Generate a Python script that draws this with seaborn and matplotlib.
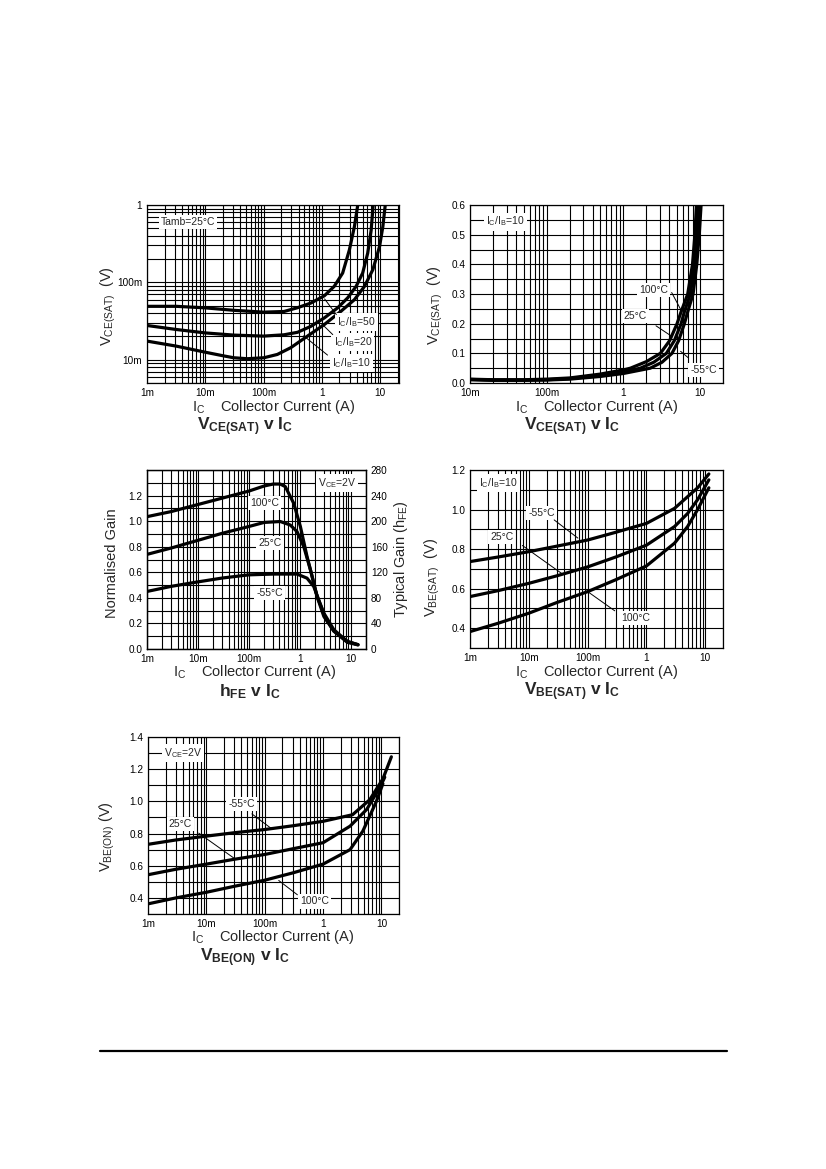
import numpy as np
import pandas as pd
import matplotlib
matplotlib.use('Agg')
import matplotlib.pyplot as plt
import seaborn as sns
from matplotlib.ticker import FixedLocator, FixedFormatter, MultipleLocator, LogLocator, NullFormatter
from matplotlib.lines import Line2D

# ---------------------------------------------------------------- data
# panel 1 : VCE(SAT) v IC (log-log), Tamb=25C
p1_x50 = [0.001, 0.00316, 0.01, 0.031, 0.1, 0.224, 0.381, 0.646, 1.1, 1.63, 2.27, 2.96, 3.61, 4.12]
p1_y50 = [0.049, 0.049, 0.0468, 0.0435, 0.0412, 0.042, 0.047, 0.054, 0.067, 0.089, 0.132, 0.263, 0.526, 1.0]
p1_x20 = [0.001, 0.00316, 0.01, 0.031, 0.1, 0.224, 0.381, 0.646, 1.1, 1.86, 2.77, 3.86, 5.0, 6.1, 7.0, 7.57]
p1_y20 = [0.0277, 0.0246, 0.0222, 0.0208, 0.0202, 0.021, 0.0226, 0.027, 0.0347, 0.0468, 0.0631, 0.0887, 0.132, 0.238, 0.476, 1.0]
p1_x10 = [0.001, 0.00316, 0.01, 0.0207, 0.0308, 0.0523, 0.101, 0.172, 0.292, 0.566, 1.1, 2.13, 3.61, 5.37, 7.48, 9.75, 11.1, 12.2]
p1_y10 = [0.0174, 0.015, 0.0125, 0.0112, 0.0106, 0.0103, 0.0106, 0.0117, 0.0143, 0.0202, 0.0285, 0.0424, 0.0597, 0.0887, 0.146, 0.291, 0.526, 1.0]

# panel 2 : VCE(SAT) v IC (linear y), IC/IB=10
p2_x100 = [0.01, 0.02, 0.05, 0.1, 0.2, 0.5, 1.0, 1.24, 2.0, 3.05, 4.03, 5.03, 5.68, 6.93, 8.0, 8.6, 9.0]
p2_y100 = [0.013, 0.011, 0.011, 0.013, 0.017, 0.030, 0.044, 0.05, 0.072, 0.10, 0.143, 0.20, 0.24, 0.30, 0.40, 0.50, 0.60]
p2_x25 = [0.01, 0.02, 0.05, 0.1, 0.2, 0.5, 1.0, 1.67, 2.5, 3.65, 4.64, 5.68, 6.27, 7.51, 8.5, 9.2, 9.66]
p2_y25 = [0.012, 0.010, 0.010, 0.011, 0.015, 0.026, 0.037, 0.05, 0.07, 0.10, 0.143, 0.20, 0.24, 0.30, 0.40, 0.50, 0.60]
p2_xm55 = [0.01, 0.02, 0.05, 0.1, 0.2, 0.5, 1.0, 2.25, 3.2, 4.32, 5.28, 6.27, 6.93, 8.14, 9.1, 9.8, 10.35]
p2_ym55 = [0.011, 0.009, 0.009, 0.010, 0.013, 0.022, 0.032, 0.05, 0.07, 0.10, 0.143, 0.20, 0.24, 0.30, 0.40, 0.50, 0.60]

# panel 3 : hFE v IC, VCE=2V
p3_x100 = [0.001, 0.003, 0.01, 0.03, 0.1, 0.2, 0.3, 0.414, 0.52, 0.76, 1.03, 1.39, 1.75, 2.19, 2.97, 4.67, 8.6, 13.9]
p3_y100 = [1.035, 1.075, 1.13, 1.18, 1.235, 1.275, 1.29, 1.29, 1.27, 1.14, 0.957, 0.723, 0.567, 0.41, 0.281, 0.151, 0.059, 0.034]
p3_x25 = [0.001, 0.003, 0.01, 0.03, 0.1, 0.2, 0.414, 0.65, 0.885, 1.2, 1.62, 2.19, 2.97, 4.67, 8.6, 13.9]
p3_y25 = [0.74, 0.79, 0.85, 0.905, 0.958, 0.99, 0.997, 0.97, 0.918, 0.80, 0.62, 0.41, 0.255, 0.14, 0.059, 0.034]
p3_xm55 = [0.001, 0.003, 0.01, 0.03, 0.1, 0.3, 0.885, 1.39, 1.88, 2.36, 3.2, 4.67, 8.6, 13.9]
p3_ym55 = [0.45, 0.49, 0.525, 0.555, 0.58, 0.586, 0.586, 0.554, 0.489, 0.385, 0.242, 0.14, 0.052, 0.032]

# panel 4 : VBE(SAT) v IC, IC/IB=10
p4_x = [0.001, 0.003, 0.01, 0.03, 0.1, 0.3, 1.0, 3.0, 5.0, 7.4, 11.5]
p4_ym55 = [0.737, 0.76, 0.787, 0.815, 0.846, 0.885, 0.93, 1.006, 1.065, 1.11, 1.18]
p4_y25 = [0.56, 0.59, 0.627, 0.665, 0.71, 0.76, 0.82, 0.914, 0.98, 1.05, 1.15]
p4_y100 = [0.383, 0.425, 0.476, 0.53, 0.585, 0.645, 0.715, 0.83, 0.914, 1.0, 1.11]

# panel 5 : VBE(ON) v IC, VCE=2V
p5_xm55 = [0.001, 0.003, 0.01, 0.03, 0.1, 0.3, 1.0, 3.2, 6.3, 10.6, 14.8]
p5_ym55 = [0.733, 0.76, 0.784, 0.805, 0.825, 0.848, 0.876, 0.917, 1.01, 1.14, 1.277]
p5_x25 = [0.001, 0.003, 0.01, 0.03, 0.1, 0.3, 1.0, 2.9, 5.6, 9.5, 11.4]
p5_y25 = [0.544, 0.578, 0.61, 0.64, 0.67, 0.705, 0.743, 0.846, 0.95, 1.09, 1.15]
p5_x100 = [0.001, 0.003, 0.01, 0.03, 0.1, 0.3, 1.0, 2.9, 4.8, 8.2, 10.6]
p5_y100 = [0.363, 0.40, 0.435, 0.472, 0.51, 0.555, 0.61, 0.70, 0.815, 1.0, 1.11]

# tick labels
xt_1m = [0.001, 0.01, 0.1, 1, 10]
xl_1m = ['1m', '10m', '100m', '1', '10']
xt_10m = [0.01, 0.1, 1, 10]
xl_10m = ['10m', '100m', '1', '10']
yt_p1 = [0.01, 0.1, 1]
yl_p1 = ['10m', '100m', '1']

# ---------------------------------------------------------------- style
sns.set_style('white')
plt.rcParams['font.family'] = ['Liberation Sans', 'DejaVu Sans']
plt.rcParams['mathtext.fontset'] = 'custom'
plt.rcParams['mathtext.rm'] = 'Liberation Sans'
plt.rcParams['mathtext.it'] = 'Liberation Sans:italic'
plt.rcParams['mathtext.bf'] = 'Liberation Sans:bold'

W, H = 826, 1169
fig = plt.figure(figsize=(W / 100, H / 100), dpi=100)


def box(l, t, r, b):
    return [l / W, 1 - b / H, (r - l) / W, (b - t) / H]


def curve(ax, xs, ys):
    sns.lineplot(x=xs, y=ys, ax=ax, color='black', lw=2.3, sort=False, estimator=None)


def setup(ax, xlim, ylim, xt, xl):
    ax.set_xscale('log')
    ax.set_xlim(*xlim)
    ax.set_ylim(*ylim)
    ax.xaxis.set_major_locator(FixedLocator(xt))
    ax.xaxis.set_major_formatter(FixedFormatter(xl))
    ax.xaxis.set_minor_locator(LogLocator(base=10, subs=np.arange(2, 10)))
    ax.xaxis.set_minor_formatter(NullFormatter())
    ax.grid(True, which='both', color='black', lw=0.8)
    ax.tick_params(which='both', length=0, labelsize=7.2, pad=3.5, colors='black')
    for s in ax.spines.values():
        s.set_color('black')
        s.set_linewidth(0.9)


def note(ax, x, y, txt):
    ax.text(x, y, txt, transform=ax.transAxes, fontsize=7.5, ha='center', va='center',
            bbox=dict(facecolor='white', edgecolor='none', pad=1.5), zorder=5)


def leader(ax, p0, p1):
    ax.annotate('', xy=p1, xytext=p0, xycoords='axes fraction', textcoords='axes fraction',
                arrowprops=dict(arrowstyle='-', lw=0.7, color='black'), zorder=6)


def labels(ax, ylab, ylc, xlc, title, tc):
    ax.set_ylabel(ylab, fontsize=10.5)
    ax.yaxis.set_label_coords(*ylc)
    ax.text(xlc[0], xlc[1], r'I$_\mathrm{C}$    Collector Current (A)', transform=ax.transAxes,
            fontsize=10.5, ha='center', va='baseline')
    ax.text(tc[0], tc[1], title, transform=ax.transAxes, fontsize=12.5, fontweight='bold',
            ha='center', va='baseline')


# ---------------------------------------------------------------- panel 1
ax1 = fig.add_axes(box(147, 205, 399, 383))
for xs, ys in [(p1_x50, p1_y50), (p1_x20, p1_y20), (p1_x10, p1_y10)]:
    curve(ax1, xs, ys)
setup(ax1, (0.001, 21), (0.005, 1), xt_1m, xl_1m)
ax1.set_yscale('log')
ax1.set_ylim(0.005, 1)
ax1.yaxis.set_major_locator(FixedLocator(yt_p1))
ax1.yaxis.set_major_formatter(FixedFormatter(yl_p1))
ax1.yaxis.set_minor_locator(LogLocator(base=10, subs=np.arange(2, 10)))
ax1.yaxis.set_minor_formatter(NullFormatter())
note(ax1, 0.163, 0.903, 'Tamb=25°C')
note(ax1, 0.831, 0.344, r'I$_\mathrm{C}$/I$_\mathrm{B}$=50')
note(ax1, 0.817, 0.232, r'I$_\mathrm{C}$/I$_\mathrm{B}$=20')
note(ax1, 0.811, 0.111, r'I$_\mathrm{C}$/I$_\mathrm{B}$=10')
leader(ax1, (0.758, 0.372), (0.698, 0.485))
leader(ax1, (0.745, 0.261), (0.685, 0.344))
leader(ax1, (0.725, 0.147), (0.613, 0.275))
labels(ax1, r'V$_\mathrm{CE(SAT)}$  (V)', (-0.116, 0.43), (0.503, -0.157),
       r'V$_\mathbf{CE(SAT)}$ v I$_\mathbf{C}$', (0.388, -0.268))

# ---------------------------------------------------------------- panel 2
ax2 = fig.add_axes(box(470, 205, 723, 383))
for xs, ys in [(p2_x100, p2_y100), (p2_x25, p2_y25), (p2_xm55, p2_ym55)]:
    curve(ax2, xs, ys)
setup(ax2, (0.01, 20), (0, 0.6), xt_10m, xl_10m)
ax2.yaxis.set_major_locator(MultipleLocator(0.1))
ax2.yaxis.set_minor_locator(MultipleLocator(0.05))
ax2.yaxis.set_major_formatter(plt.FuncFormatter(lambda v, p: f'{v:.1f}'))
note(ax2, 0.139, 0.907, r'I$_\mathrm{C}$/I$_\mathrm{B}$=10')
note(ax2, 0.725, 0.522, '100°C')
note(ax2, 0.653, 0.375, '25°C')
note(ax2, 0.923, 0.075, '-55°C')
leader(ax2, (0.792, 0.522), (0.838, 0.399))
leader(ax2, (0.726, 0.330), (0.805, 0.255))
leader(ax2, (0.871, 0.132), (0.824, 0.188))
labels(ax2, r'V$_\mathrm{CE(SAT)}$  (V)', (-0.099, 0.437), (0.501, -0.158),
       r'V$_\mathbf{CE(SAT)}$ v I$_\mathbf{C}$', (0.405, -0.268))

# ---------------------------------------------------------------- panel 3
ax3 = fig.add_axes(box(147, 470, 366, 649))
for xs, ys in [(p3_x100, p3_y100), (p3_x25, p3_y25), (p3_xm55, p3_ym55)]:
    curve(ax3, xs, ys)
setup(ax3, (0.001, 20), (0, 1.4), xt_1m, xl_1m)
ax3.yaxis.set_major_locator(FixedLocator([0, 0.2, 0.4, 0.6, 0.8, 1.0, 1.2]))
ax3.yaxis.set_minor_locator(MultipleLocator(0.1))
ax3.yaxis.set_major_formatter(plt.FuncFormatter(lambda v, p: f'{v:.1f}'))
ax3r = ax3.twinx()
ax3r.set_ylim(0, 280)
ax3r.yaxis.set_major_locator(MultipleLocator(40))
ax3r.tick_params(length=0, labelsize=7.2, pad=3.5, colors='black')
ax3r.grid(False)
for s in ax3r.spines.values():
    s.set_color('black')
    s.set_linewidth(0.9)
ax3r.set_ylabel(r'Typical Gain (h$_\mathrm{FE}$)', fontsize=10.5)
ax3r.yaxis.set_label_coords(1.119, 0.5)
note(ax3, 0.538, 0.814, '100°C')
note(ax3, 0.561, 0.591, '25°C')
note(ax3, 0.561, 0.312, '-55°C')
note(ax3, 0.866, 0.926, r'V$_\mathrm{CE}$=2V')
labels(ax3, 'Normalised Gain', (-0.13, 0.48), (0.492, -0.153),
       r'h$_\mathbf{FE}$ v I$_\mathbf{C}$', (0.47, -0.262))

# ---------------------------------------------------------------- panel 4
ax4 = fig.add_axes(box(470, 470, 723, 648))
for ys in [p4_ym55, p4_y25, p4_y100]:
    curve(ax4, p4_x, ys)
setup(ax4, (0.001, 20), (0.3, 1.2), xt_1m, xl_1m)
ax4.yaxis.set_major_locator(FixedLocator([0.4, 0.6, 0.8, 1.0, 1.2]))
ax4.yaxis.set_minor_locator(MultipleLocator(0.1))
ax4.yaxis.set_major_formatter(plt.FuncFormatter(lambda v, p: f'{v:.1f}'))
note(ax4, 0.112, 0.925, r'I$_\mathrm{C}$/I$_\mathrm{B}$=10')
note(ax4, 0.284, 0.757, '-55°C')
note(ax4, 0.125, 0.622, '25°C')
note(ax4, 0.653, 0.168, '100°C')
leader(ax4, (0.324, 0.729), (0.435, 0.608))
leader(ax4, (0.198, 0.585), (0.370, 0.411))
leader(ax4, (0.581, 0.200), (0.455, 0.327))
labels(ax4, r'V$_\mathrm{BE(SAT)}$  (V)', (-0.111, 0.40), (0.501, -0.155),
       r'V$_\mathbf{BE(SAT)}$ v I$_\mathbf{C}$', (0.405, -0.268))

# ---------------------------------------------------------------- panel 5
ax5 = fig.add_axes(box(148, 737, 399, 914))
for xs, ys in [(p5_xm55, p5_ym55), (p5_x25, p5_y25), (p5_x100, p5_y100)]:
    curve(ax5, xs, ys)
setup(ax5, (0.001, 20), (0.3, 1.4), xt_1m, xl_1m)
ax5.yaxis.set_major_locator(FixedLocator([0.4, 0.6, 0.8, 1.0, 1.2, 1.4]))
ax5.yaxis.set_minor_locator(MultipleLocator(0.1))
ax5.yaxis.set_major_formatter(plt.FuncFormatter(lambda v, p: f'{v:.1f}'))
note(ax5, 0.139, 0.907, r'V$_\mathrm{CE}$=2V')
note(ax5, 0.372, 0.621, '-55°C')
note(ax5, 0.129, 0.509, '25°C')
note(ax5, 0.664, 0.071, '100°C')
leader(ax5, (0.405, 0.575), (0.498, 0.476))
leader(ax5, (0.193, 0.466), (0.352, 0.306))
leader(ax5, (0.604, 0.099), (0.512, 0.199))
labels(ax5, r'V$_\mathrm{BE(ON)}$ (V)', (-0.125, 0.437), (0.496, -0.154),
       r'V$_\mathbf{BE(ON)}$ v I$_\mathbf{C}$', (0.388, -0.267))

# bottom rule
fig.add_artist(Line2D([100 / W, 727 / W], [1 - 1051 / H, 1 - 1051 / H], color='black', lw=1.6))

fig.savefig('out.png', dpi=100)
